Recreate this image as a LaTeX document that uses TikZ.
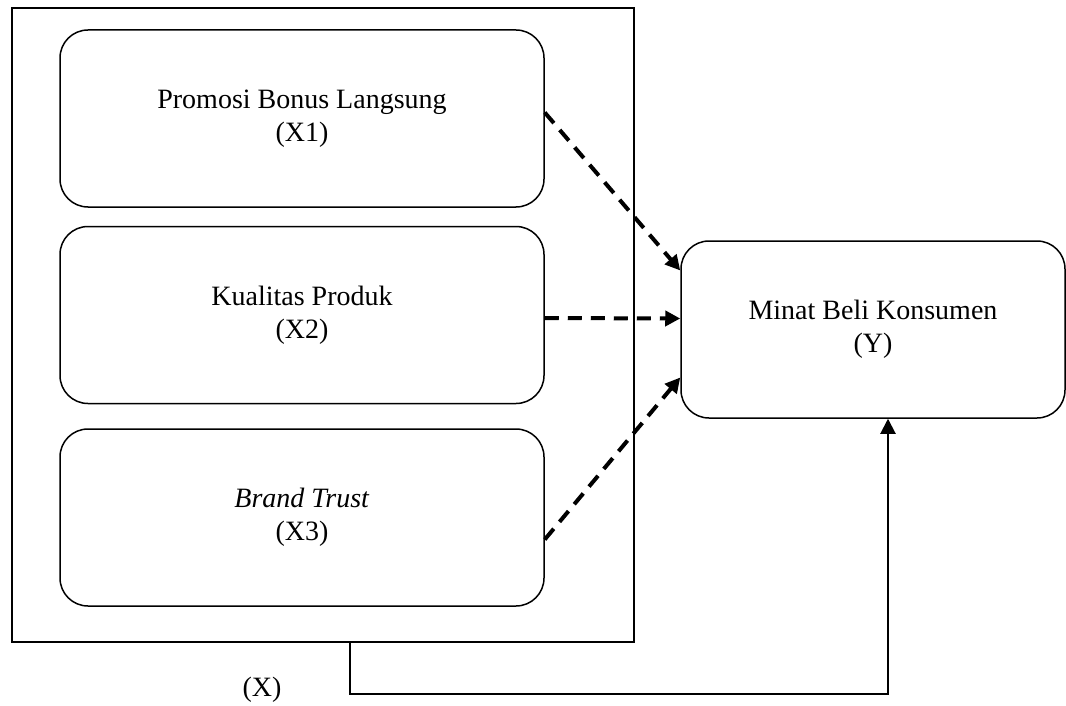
\documentclass[tikz,border=0pt]{standalone}
\usepackage{fontspec}
\setmainfont{Liberation Serif}
\usepackage{tikz}
\usetikzlibrary{arrows.meta, positioning, calc}

\tikzset{
    varbox/.style={rectangle,draw=black,line width=1.5pt,rounded corners=28pt,minimum width=484pt,minimum height=177pt,align=center,font=\fontsize{28}{33}\selectfont},
    dasharrow/.style={-{Triangle[length=15pt,width=15pt]},line width=4pt,dash pattern=on 14pt off 9pt},
    solidarrow/.style={-{Triangle[length=15pt,width=15pt]},line width=2pt}
}

\begin{document}
\begin{tikzpicture}[x=1pt,y=-1pt]
    \useasboundingbox (0,0) rectangle (1066,706);
    % Variabel bebas
    \node[rectangle,draw=black,line width=1.5pt,minimum width=622pt,minimum height=634pt] (xbox) at (323,325) {};
    \node[varbox] (x1) at (302,118.5) {Promosi Bonus Langsung \\ (X1)};
    \node[varbox] (x2) at (302,315) {Kualitas Produk \\ (X2)};
    \node[varbox] (x3) at (302,517.5) {\textit{Brand Trust} \\ (X3)};
    % Variabel terikat
    \node[varbox,minimum width=384pt] (y) at (873,329.5) {Minat Beli Konsumen \\ (Y)};
    \node[font=\fontsize{28}{33}\selectfont] (xlabel) at (262,690) {(X)};

    % Pengaruh parsial
    \draw[dasharrow] ([yshift=6pt]x1.east) -- ([yshift=59pt]y.west);
    \draw[dasharrow] ([yshift=-3pt]x2.east) -- ([yshift=11pt]y.west);
    \draw[dasharrow] ([yshift=-22pt]x3.east) -- ([yshift=-48pt]y.west);

    % Pengaruh simultan
    \coordinate (turn) at (350,694);
    \draw[solidarrow] (xbox.south -| turn) |- ([xshift=15pt]y.south |- turn) -- ([xshift=15pt]y.south);
\end{tikzpicture}
\end{document}
